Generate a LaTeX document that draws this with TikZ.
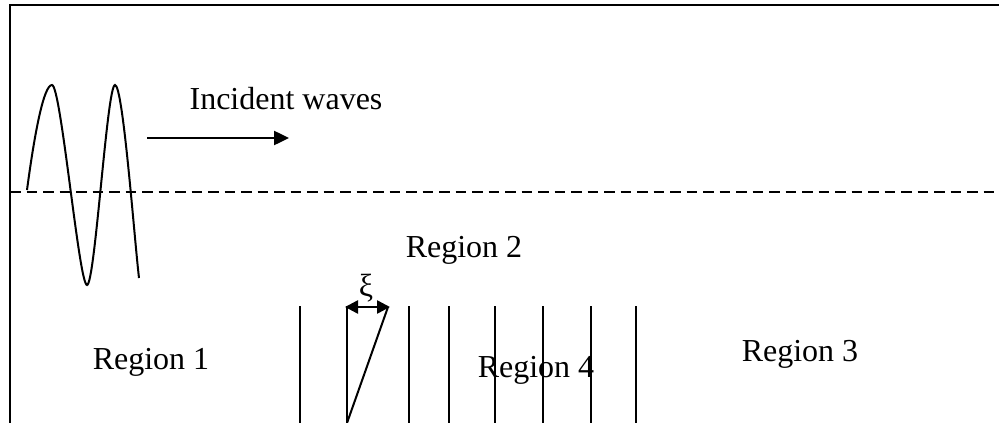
\documentclass[tikz,border=0pt]{standalone}
\usepackage{fontspec}
\setmainfont{Liberation Serif}
\usetikzlibrary{arrows.meta,positioning}

\begin{document}
\begin{tikzpicture}[x=1pt,y=-1pt,
  wall/.style={line width=2.5pt},
  lbl/.style={font=\fontsize{32}{38}\selectfont,inner sep=0pt,anchor=base},
  tri/.style={-{Triangle[length=15pt,width=14pt]}},
  twotri/.style={{Triangle[length=13pt,width=13pt]}-{Triangle[length=13pt,width=13pt]}}]
  \useasboundingbox (0,0) rectangle (999,423);
  % frame and still water level
  \draw[wall] (999,5) -- (10,5) -- (10,423);
  \draw[wall,dash pattern=on 10.5pt off 6pt] (10,192) -- (999,192);
  % incident wave train
  \draw[line width=2pt] (27,190) .. controls (35,130) and (44,85) .. (52,85)
    .. controls (61,85) and (79,285) .. (87,285)
    .. controls (95,285) and (107,85) .. (115,85)
    .. controls (123,85) and (134,235) .. (139,278);
  \coordinate (arrS) at (147,138);
  \coordinate (arrE) at (289,138);
  \draw[wall,tri] (arrS) -- (arrE);
  \node[lbl] (incident) at (286,109) {Incident waves};
  % regions
  \node[lbl] (reg1) at (151,369) {Region 1};
  \node[lbl] (reg2) at (464,257) {Region 2};
  \node[lbl] (reg3) at (800,361) {Region 3};
  \node[lbl] (reg4) at (536,377) {Region 4};
  % plates
  \foreach \px in {300,347,409,449,495,543,591,636}
    \draw[wall] (\px,306) -- (\px,423);
  \coordinate (xiL) at (345,307);
  \coordinate (xiR) at (390,307);
  \coordinate (xiB) at (347,423);
  \draw[wall,twotri] (xiL) -- (xiR);
  \draw[line width=2pt] (388,307) -- (xiB);
  \node[lbl,anchor=center] (xi) at (366,288) {ξ};
\end{tikzpicture}
\end{document}
